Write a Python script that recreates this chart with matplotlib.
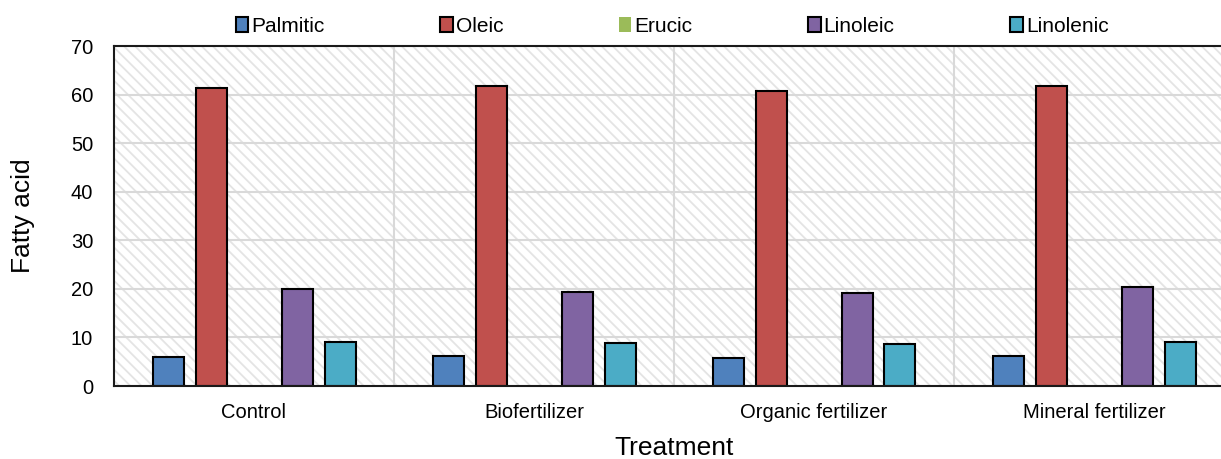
import matplotlib
matplotlib.use("Agg")
import matplotlib.pyplot as plt
import numpy as np

categories = ["Control", "Biofertilizer", "Organic fertilizer", "Mineral fertilizer"]
series_names = ["Palmitic", "Oleic", "Erucic", "Linoleic", "Linolenic"]
palmitic = [6.0, 6.2, 5.8, 6.2]
oleic = [61.4, 61.8, 60.7, 61.8]
erucic = [0.0, 0.0, 0.0, 0.0]
linoleic = [20.0, 19.4, 19.2, 20.4]
linolenic = [9.1, 8.9, 8.7, 9.1]
colors = ["#4F81BD", "#C0504D", "#9BBB59", "#8064A2", "#4BACC6"]
y_ticks = [0, 10, 20, 30, 40, 50, 60, 70]

plt.rcParams['font.family'] = ['Liberation Sans', 'DejaVu Sans']
plt.rcParams['hatch.color'] = '#e4e4e4'
plt.rcParams['hatch.linewidth'] = 1.3

fig = plt.figure(figsize=(12.21, 4.59), dpi=100)
ax = fig.add_axes([114/1221, 1-386/459, 1120/1221, 340/459])

# hatched background
ax.set_facecolor('white')
bg = plt.Rectangle((0, 0), 1, 1, transform=ax.transAxes, facecolor='white',
                   edgecolor='#e4e4e4', hatch='\\\\\\', linewidth=0, zorder=0)
ax.add_patch(bg)

data = [palmitic, oleic, erucic, linoleic, linolenic]
x = np.arange(len(categories))
spacing = 43/280
width = 31/280
for i, (name, vals, c) in enumerate(zip(series_names, data, colors)):
    off = (i - 2) * spacing
    if name == "Erucic":
        ax.bar(x + off, vals, width, color=c, edgecolor='none', label=name, zorder=3)
    else:
        ax.bar(x + off, vals, width, color=c, edgecolor='black', linewidth=1.5,
               label=name, zorder=3)

ax.set_xlim(-0.5, 3.5)
ax.set_ylim(0, 70)
ax.set_yticks(y_ticks)
ax.set_xticks(x)
ax.set_xticklabels(categories)
ax.tick_params(axis='both', length=0, labelsize=14.5, colors='black')
ax.tick_params(axis='x', pad=12)
ax.tick_params(axis='y', pad=15)

for yv in y_ticks[1:]:
    ax.axhline(yv, color='#d9d9d9', linewidth=1.5, zorder=1)
for xv in [0.5, 1.5, 2.5]:
    ax.axvline(xv, color='#d9d9d9', linewidth=1.5, zorder=1)

for s in ax.spines.values():
    s.set_color('#1a1a1a')
    s.set_linewidth(1.5)
ax.spines['bottom'].set_zorder(4)

ax.set_ylabel("Fatty acid", fontsize=19, labelpad=26)
ax.set_xlabel("Treatment", fontsize=19, labelpad=10)

handles, labels = ax.get_legend_handles_labels()
fig.legend(handles, labels, loc='center', bbox_to_anchor=(672/1221, 1-26/459),
           ncol=5, frameon=False, fontsize=15, handlelength=0.6, handleheight=0.7,
           handletextpad=0.15, columnspacing=5.55)

fig.savefig("out.png", dpi=100)
